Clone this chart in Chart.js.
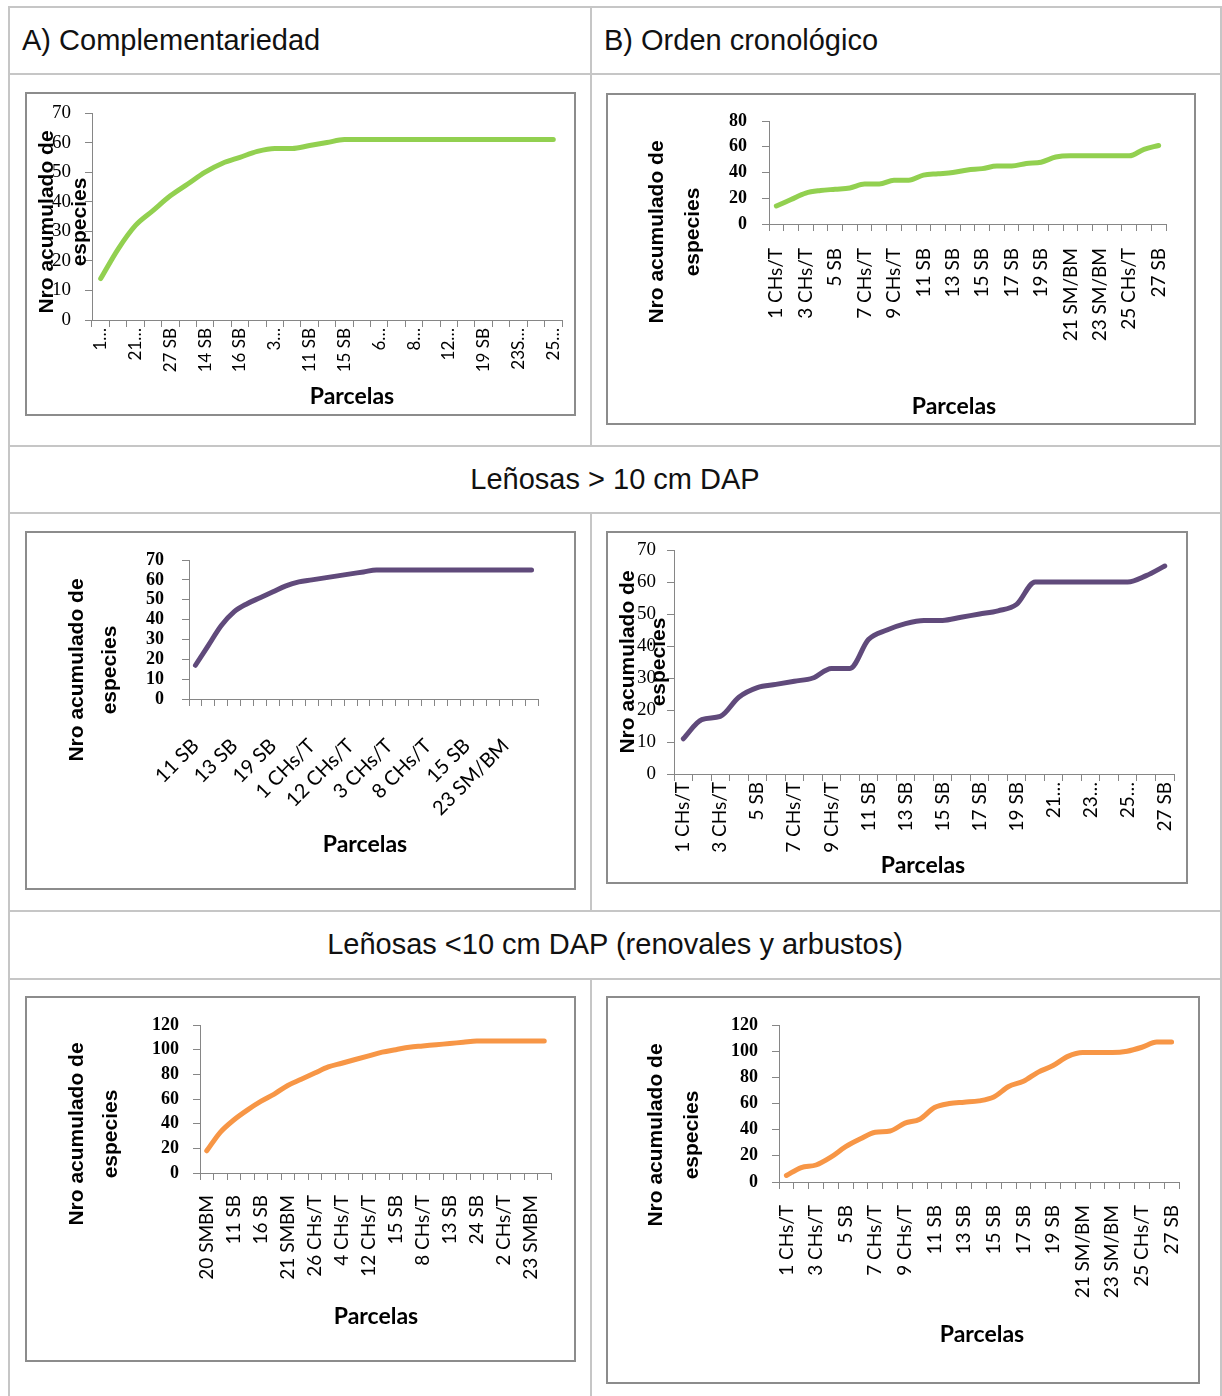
<!DOCTYPE html>
<html>
<head>
<meta charset="utf-8">
<script src="https://cdn.jsdelivr.net/npm/chart.js@4.4.0/dist/chart.umd.min.js"></script>
<style>
  body { margin: 0; background: #fff; width: 1222px; height: 1396px; position: relative; overflow: hidden; font-family: "Liberation Sans", Arial, sans-serif; }
  .ln { position: absolute; background: #c6c6c6; }
  .hd { position: absolute; font-size: 29px; line-height: 29px; color: #111; white-space: nowrap; }
  .box { position: absolute; border: 2px solid #8c8c8c; box-sizing: border-box; pointer-events: none; }
  canvas { position: absolute; }
</style>
</head>
<body>
<!-- table lines -->
<div class="ln" style="left:8px;top:6px;width:1214px;height:2px"></div>
<div class="ln" style="left:8px;top:73px;width:1214px;height:2px"></div>
<div class="ln" style="left:8px;top:445px;width:1214px;height:2px"></div>
<div class="ln" style="left:8px;top:512px;width:1214px;height:2px"></div>
<div class="ln" style="left:8px;top:910px;width:1214px;height:2px"></div>
<div class="ln" style="left:8px;top:978px;width:1214px;height:2px"></div>
<div class="ln" style="left:8px;top:6px;width:2px;height:1390px"></div>
<div class="ln" style="left:1220px;top:6px;width:2px;height:1390px"></div>
<div class="ln" style="left:590px;top:6px;width:2px;height:440px"></div>
<div class="ln" style="left:590px;top:512px;width:2px;height:399px"></div>
<div class="ln" style="left:590px;top:978px;width:2px;height:418px"></div>

<div class="hd" style="left:22px;top:26px">A) Complementariedad</div>
<div class="hd" style="left:604px;top:26px">B) Orden cronológico</div>
<div class="hd" style="left:0;width:1230px;text-align:center;top:465px">Leñosas &gt; 10 cm DAP</div>
<div class="hd" style="left:0;width:1230px;text-align:center;top:930px">Leñosas &lt;10 cm DAP (renovales y arbustos)</div>

<canvas id="c1"></canvas><div class="box" id="b1"></div>
<canvas id="c2"></canvas><div class="box" id="b2"></div>
<canvas id="c3"></canvas><div class="box" id="b3"></div>
<canvas id="c4"></canvas><div class="box" id="b4"></div>
<canvas id="c5"></canvas><div class="box" id="b5"></div>
<canvas id="c6"></canvas><div class="box" id="b6"></div>

<script>
// todas las especies
const ticksCompTotal = ['1…', '21…', '27 SB', '14 SB', '16 SB', '3…', '11 SB', '15 SB', '6…', '8…', '12…', '19 SB', '23S…', '25…'];
const valsCompTotal = [14, 24, 32, 37, 42, 46, 50, 53, 55, 57, 58, 58, 59, 60, 61, 61, 61, 61, 61, 61, 61, 61, 61, 61, 61, 61, 61];

const ticksCronTotal = ['1 CHs/T', '3 CHs/T', '5 SB', '7 CHs/T', '9 CHs/T', '11 SB', '13 SB', '15 SB', '17 SB', '19 SB', '21 SM/BM', '23 SM/BM', '25 CHs/T', '27 SB'];
const valsCronTotal = [14, 19, 24, 26, 27, 28, 31, 31, 34, 34, 38, 39, 40, 42, 43, 45, 45, 47, 48, 52, 53, 53, 53, 53, 53, 58, 61];

// leñosas > 10 cm DAP
const ticksCompMayor = ['11 SB', '13 SB', '19 SB', '1 CHs/T', '12 CHs/T', '3 CHs/T', '8 CHs/T', '15 SB', '23 SM/BM'];
const valsCompMayor = [17, 27, 37, 44, 48, 51, 54, 57, 59, 60, 61, 62, 63, 64, 65, 65, 65, 65, 65, 65, 65, 65, 65, 65, 65, 65, 65];

const ticksCronMayor = ['1 CHs/T', '3 CHs/T', '5 SB', '7 CHs/T', '9 CHs/T', '11 SB', '13 SB', '15 SB', '17 SB', '19 SB', '21…', '23…', '25…', '27 SB'];
const valsCronMayor = [11, 17, 18, 24, 27, 28, 29, 30, 33, 33, 42, 45, 47, 48, 48, 49, 50, 51, 53, 60, 60, 60, 60, 60, 60, 62, 65];

// leñosas < 10 cm DAP
const ticksCompMenor = ['20 SMBM', '11 SB', '16 SB', '21 SMBM', '26 CHs/T', '4 CHs/T', '12 CHs/T', '15 SB', '8 CHs/T', '13 SB', '24 SB', '2 CHs/T', '23 SMBM'];
const valsCompMenor = [18, 33, 43, 51, 58, 64, 71, 76, 81, 86, 89, 92, 95, 98, 100, 102, 103, 104, 105, 106, 107, 107, 107, 107, 107, 107];

const ticksCronMenor = ['1 CHs/T', '3 CHs/T', '5 SB', '7 CHs/T', '9 CHs/T', '11 SB', '13 SB', '15 SB', '17 SB', '19 SB', '21 SM/BM', '23 SM/BM', '25 CHs/T', '27 SB'];
const valsCronMenor = [5, 11, 13, 19, 27, 33, 38, 39, 45, 48, 57, 60, 61, 62, 65, 73, 77, 84, 89, 96, 99, 99, 99, 100, 103, 107, 107];

const yTitleLines = ['Nro acumulado de', 'especies'];
const xTitle = 'Parcelas';

const axisGrey = '#868686';

// posiciones en la página: caja [x1,y1,x2,y2], área de trazado [izq, arriba, der, abajo]
const charts = [
  { id: 1, box: [25, 92, 576, 416], plot: [92, 113, 562, 320], ticks: ticksCompTotal, values: valsCompTotal, every: 2, rot: 90,
    color: '#92d050', yMax: 70, yStep: 10, yBold: false, ySize: 19, yPad: 14, xFont: 17, xPad: 1, yT: [47, 80, 222], xT: [352, 397] },
  { id: 2, box: [606, 93, 1196, 425], plot: [769, 121, 1166, 224], ticks: ticksCronTotal, values: valsCronTotal, every: 2, rot: 90,
    color: '#92d050', yMax: 80, yStep: 20, yBold: true, ySize: 18, yPad: 15, xFont: 19, xPad: 17, yT: [657, 693, 232], xT: [954, 407] },
  { id: 3, box: [25, 531, 576, 890], plot: [189, 560, 538, 699], ticks: ticksCompMayor, values: valsCompMayor, every: 3, rot: 45,
    color: '#604a7b', yMax: 70, yStep: 10, yBold: true, ySize: 18, yPad: 18, xFont: 20, xPad: 28, yT: [77, 110, 670], xT: [365, 845] },
  { id: 4, box: [606, 531, 1188, 884], plot: [674, 550, 1174, 774], ticks: ticksCronMayor, values: valsCronMayor, every: 2, rot: 90,
    color: '#604a7b', yMax: 70, yStep: 10, yBold: false, ySize: 19, yPad: 11, xFont: 19, xPad: 1, yT: [628, 659, 662], xT: [923, 866] },
  { id: 5, box: [25, 996, 576, 1362], plot: [200, 1025, 551, 1173], ticks: ticksCompMenor, values: valsCompMenor, every: 2, rot: 90,
    color: '#f79646', yMax: 120, yStep: 20, yBold: true, ySize: 18, yPad: 14, xFont: 19, xPad: 15, yT: [77, 111, 1134], xT: [376, 1317] },
  { id: 6, box: [606, 996, 1200, 1384], plot: [779, 1025, 1179, 1182], ticks: ticksCronMenor, values: valsCronMenor, every: 2, rot: 90,
    color: '#f79646', yMax: 120, yStep: 20, yBold: true, ySize: 18, yPad: 14, xFont: 19, xPad: 16, yT: [656, 692, 1135], xT: [982, 1335] }
];

function titlesPlugin(c) {
  return {
    id: 'titles' + c.id,
    afterDraw(chart) {
      const ctx = chart.ctx;
      const [bx, by] = c.box;
      ctx.save();
      ctx.fillStyle = '#000';
      ctx.textAlign = 'center';
      ctx.textBaseline = 'middle';
      ctx.font = 'bold 21px "Liberation Sans", Arial, sans-serif';
      yTitleLines.forEach((t, i) => {
        ctx.save();
        ctx.translate(c.yT[i] - bx, c.yT[2] - by);
        ctx.rotate(-Math.PI / 2);
        ctx.fillText(t, 0, 0);
        ctx.restore();
      });
      ctx.font = 'bold 23px Lato, sans-serif';
      ctx.fillText(xTitle, c.xT[0] - bx, c.xT[1] - by);
      ctx.restore();
    }
  };
}

charts.forEach(c => {
  const [bx, by, bx2, by2] = c.box;
  const W = bx2 - bx, H = by2 - by;
  const canvas = document.getElementById('c' + c.id);
  canvas.width = W;
  canvas.height = H;
  Object.assign(canvas.style, { left: bx + 'px', top: by + 'px', width: W + 'px', height: H + 'px' });
  Object.assign(document.getElementById('b' + c.id).style, { left: bx + 'px', top: by + 'px', width: W + 'px', height: H + 'px' });

  const labels = c.values.map((_, i) => (i % c.every === 0 ? (c.ticks[i / c.every] || '') : ''));

  new Chart(canvas, {
    type: 'line',
    data: {
      labels,
      datasets: [{
        data: c.values,
        borderColor: c.color,
        borderWidth: 5,
        pointRadius: 0,
        fill: false,
        cubicInterpolationMode: 'monotone',
        borderCapStyle: 'round',
        borderJoinStyle: 'round'
      }]
    },
    options: {
      responsive: false,
      animation: false,
      devicePixelRatio: 1,
      layout: { padding: { left: 0, top: c.plot[1] - by, right: bx2 - c.plot[2], bottom: 0 } },
      plugins: { legend: { display: false }, tooltip: { enabled: false } },
      scales: {
        x: {
          offset: true,
          grid: { offset: true, drawOnChartArea: false, tickLength: 7, color: axisGrey },
          border: { color: axisGrey },
          ticks: {
            autoSkip: false,
            minRotation: c.rot,
            maxRotation: c.rot,
            padding: c.xPad,
            color: '#000',
            font: { family: 'Lato, sans-serif', size: c.xFont }
          },
          afterFit: s => { s.height = by2 - c.plot[3]; s.paddingLeft = 0; s.paddingRight = 0; }
        },
        y: {
          min: 0,
          max: c.yMax,
          grid: { drawOnChartArea: false, tickLength: 7, color: axisGrey },
          border: { color: axisGrey },
          ticks: {
            stepSize: c.yStep,
            autoSkip: false,
            padding: c.yPad,
            color: '#000',
            font: { family: '"Liberation Serif", serif', size: c.ySize, weight: c.yBold ? 'bold' : 'normal' }
          },
          afterFit: s => { s.width = c.plot[0] - bx; s.paddingTop = 0; s.paddingBottom = 0; }
        }
      }
    },
    plugins: [titlesPlugin(c)]
  });
});
</script>
</body>
</html>
